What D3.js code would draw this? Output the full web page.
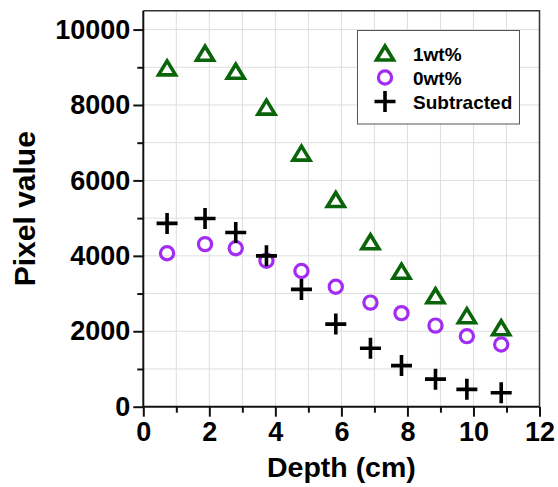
<!DOCTYPE html>
<head>
  <meta charset="utf-8">
  <script src="https://d3js.org/d3.v7.min.js"></script>
  <style>
    body { margin:0; background:#fff; }
    text { font-family: "Liberation Sans", Arial, sans-serif; font-weight: bold; }
  </style>
</head>
<body>
<script>
var width = 558,
    height = 487;
var margin = {top: 10.7, right: 18.5, bottom: 80.3, left: 143.3};

// values
var depth = [0.72, 1.87, 2.8, 3.73, 4.79, 5.83, 6.88, 7.82, 8.85, 9.8, 10.84];
var wt1 = [8970, 9360, 8880, 7930, 6710, 5480, 4360, 3580, 2930, 2400, 2080];
var wt0 = [4070, 4310, 4200, 3870, 3600, 3180, 2760, 2480, 2150, 1870, 1650];
var subtracted = [4860, 4990, 4620, 4000, 3110, 2190, 1550, 1090, 730, 460, 370];
var xTicks = [0, 2, 4, 6, 8, 10, 12];
var yTicks = [0, 2000, 4000, 6000, 8000, 10000];
var legendNames = ["1wt%", "0wt%", "Subtracted"];

var green = "#0a650a", purple = "#a22cf2";

var svg = d3.select("body").append("svg")
    .attr("width", width)
    .attr("height", height);

var x = d3.scaleLinear().domain([0, 12]).range([margin.left, width - margin.right]);
var y = d3.scaleLinear().domain([0, 10500]).range([height - margin.bottom, margin.top]);

// grid
svg.append("g").selectAll("line")
    .data(d3.range(1, 12))
    .enter().append("line")
    .attr("x1", d => x(d)).attr("x2", d => x(d))
    .attr("y1", y(0)).attr("y2", y(10500))
    .attr("stroke", "#dedede").attr("stroke-width", 1);
svg.append("g").selectAll("line")
    .data(d3.range(1000, 10001, 1000))
    .enter().append("line")
    .attr("x1", x(0)).attr("x2", x(12))
    .attr("y1", d => y(d)).attr("y2", d => y(d))
    .attr("stroke", "#dedede").attr("stroke-width", 1);

// top / right frame
svg.append("path")
    .attr("d", "M" + x(0) + "," + y(10500) + "H" + x(12) + "V" + y(0))
    .attr("fill", "none").attr("stroke", "#333").attr("stroke-width", 1.5);

// minor ticks
svg.append("g").attr("transform", "translate(0," + y(0) + ")")
    .call(d3.axisBottom(x).tickValues(d3.range(1, 12, 2)).tickSize(6).tickFormat(""))
    .call(g => g.select(".domain").remove())
    .selectAll("line").attr("stroke", "#111").attr("stroke-width", 2);
svg.append("g").attr("transform", "translate(" + x(0) + ",0)")
    .call(d3.axisLeft(y).tickValues(d3.range(1000, 10000, 2000)).tickSize(6).tickFormat(""))
    .call(g => g.select(".domain").remove())
    .selectAll("line").attr("stroke", "#111").attr("stroke-width", 2);

// major axes
var xAxis = svg.append("g").attr("transform", "translate(0," + y(0) + ")")
    .call(d3.axisBottom(x).tickValues(xTicks).tickSize(10).tickSizeOuter(0).tickPadding(5).tickFormat(d3.format("d")));
var yAxis = svg.append("g").attr("transform", "translate(" + x(0) + ",0)")
    .call(d3.axisLeft(y).tickValues(yTicks).tickSize(10).tickSizeOuter(0).tickPadding(3).tickFormat(d3.format("d")));

[xAxis, yAxis].forEach(function(a) {
  a.select(".domain").attr("stroke", "#111").attr("stroke-width", 2);
  a.selectAll(".tick line").attr("stroke", "#111").attr("stroke-width", 2);
  a.selectAll(".tick text").attr("fill", "#000")
    .style("font-size", "27px").style("font-family", "'Liberation Sans', Arial, sans-serif")
    .style("font-weight", "bold");
});
yAxis.select(".domain").attr("d", "M0," + y(0) + "V" + y(10500));
xAxis.select(".domain").attr("d", "M" + x(0) + ",0H" + x(12));

// axis titles
svg.append("text")
    .attr("x", (x(0) + x(12)) / 2).attr("y", 477)
    .attr("text-anchor", "middle")
    .style("font-size", "28.5px")
    .text("Depth (cm)");
svg.append("text")
    .attr("transform", "translate(35," + (y(0) + y(10500)) / 2 + ") rotate(-90)")
    .attr("text-anchor", "middle")
    .style("font-size", "30px")
    .text("Pixel value");

// markers
function triangle(g) {
  g.attr("d", "M0,-7.5L8.5,6.5L-8.5,6.5Z")
   .attr("fill", "none").attr("stroke", green).attr("stroke-width", 3.6)
   .attr("stroke-linejoin", "miter");
}
function ring(g) {
  g.attr("r", 6.6).attr("fill", "none").attr("stroke", purple).attr("stroke-width", 3.2);
}
function plus(g) {
  g.attr("d", "M-10.5,0H10.5M0,-10.5V10.5")
   .attr("fill", "none").attr("stroke", "#000").attr("stroke-width", 3.6);
}

svg.append("g").selectAll("path")
    .data(depth)
    .enter().append("path")
    .attr("transform", (d, i) => "translate(" + x(d) + "," + y(wt1[i]) + ")")
    .call(triangle);
svg.append("g").selectAll("circle")
    .data(depth)
    .enter().append("circle")
    .attr("cx", d => x(d)).attr("cy", (d, i) => y(wt0[i]))
    .call(ring);
svg.append("g").selectAll("path")
    .data(depth)
    .enter().append("path")
    .attr("transform", (d, i) => "translate(" + x(d) + "," + y(subtracted[i]) + ")")
    .call(plus);

// legend
var lg = svg.append("g");
lg.append("rect")
    .attr("x", 357.5).attr("y", 30.5).attr("width", 162).attr("height", 93.5)
    .attr("fill", "#fff").attr("stroke", "#555").attr("stroke-width", 1);
var rowsY = [53.5, 77.5, 101.5];
lg.append("path").attr("transform", "translate(385," + rowsY[0] + ")").call(triangle);
lg.append("circle").attr("cx", 385).attr("cy", rowsY[1]).call(ring);
lg.append("path").attr("transform", "translate(385," + rowsY[2] + ")").call(plus);
lg.selectAll("text.lab")
    .data(legendNames)
    .enter().append("text")
    .attr("class", "lab")
    .attr("x", 413).attr("y", (d, i) => rowsY[i] + 7)
    .style("font-size", "19px")
    .text(d => d);
</script>
</body>
